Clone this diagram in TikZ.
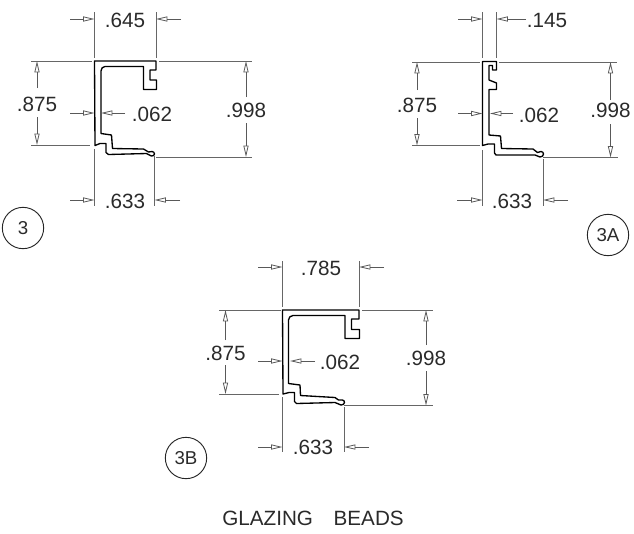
\documentclass[tikz,border=0pt]{standalone}
\usepackage{fontspec}
\setmainfont{Liberation Sans}
\usetikzlibrary{arrows.meta}
\definecolor{inkgray}{HTML}{2A2A2A}
\tikzset{
    profile/.style={draw=black, line width=1pt, line join=round, fill=white},
    extline/.style={draw=black!60, line width=0.6pt},
    dimarrow/.style={draw=black!65, line width=0.6pt, -{Triangle[open,length=8.5pt,width=3.8pt,fill=white]}},
    dimlabel/.style={text=inkgray, font=\fontsize{15.5}{16}\selectfont, inner sep=0pt},
    callout/.style={draw=black!85, line width=0.7pt, circle, minimum size=31pt, inner sep=0pt, text=inkgray, font=\fontsize{14}{15}\selectfont}
}

\begin{document}
\begin{tikzpicture}[x=0.75pt, y=-0.75pt]
\useasboundingbox (0,0) rectangle (634,533);

% bead 3
\draw[profile] (94.5,61) -- (156,61) -- (156,70) -- (150,70) -- (150,80) -- (156.5,80) -- (156.5,89.5)
    -- (143.5,89.5) -- (143.5,66.5) -- (105,66.5) to[out=180,in=90] (101,71) -- (101,133.5) -- (111.5,135)
    -- (112.5,148.5) -- (143.5,149) to[out=0,in=180] (148.5,152) to[out=0,in=180] (152,151.5)
    to[out=0,in=90] (154.5,154) to[out=-90,in=0] (151.5,156) to[out=180,in=0] (146.5,153.5)
    -- (108.5,154.5) -- (106,152.5) -- (106,143.5) -- (100,143.5) -- (95,145.5) -- cycle;
\draw[extline] (94.5,12) -- (94.5,58);
\draw[extline] (156,12) -- (156,58);
\draw[extline] (94.5,149) -- (94.5,206);
\draw[extline] (154.5,156) -- (154.5,206);
\draw[extline] (31,61) -- (92,61);
\draw[extline] (159,61) -- (252,61);
\draw[extline] (31,145) -- (90,145);
\draw[extline] (156,157) -- (252,157);
\draw[dimarrow] (70,19) -- (94.5,19);
\draw[dimarrow] (181,19) -- (156,19);
\draw[dimarrow] (37,88) -- (37,61);
\draw[dimarrow] (37,117) -- (37,145);
\draw[dimarrow] (246,97) -- (246,61);
\draw[dimarrow] (246,123) -- (246,157);
\draw[dimarrow] (70,113) -- (94.5,113);
\draw[dimarrow] (125,113) -- (101,113);
\draw[dimarrow] (70,200) -- (94.5,200);
\draw[dimarrow] (180,200) -- (154.5,200);
\node[dimlabel] (top3) at (125,20) {.645};
\node[dimlabel] (left3) at (37,104) {.875};
\node[dimlabel] (wall3) at (152,114) {.062};
\node[dimlabel] (right3) at (246,110) {.998};
\node[dimlabel] (bottom3) at (125,201) {.633};
\node[callout] (tag3) at (23,228) {3};

% bead 3A
\draw[profile] (482.5,61.5) -- (496.5,61.5) -- (496.5,70) -- (492.5,70) -- (492.5,65.5) -- (489,65.5) -- (489,80)
    -- (496.5,83) -- (496.5,89.5) -- (489,89.5) -- (489,135) -- (500.5,136) -- (501.5,148.5) -- (533,149)
    to[out=0,in=180] (537.5,152.5) to[out=0,in=180] (541,151.5) to[out=0,in=90] (543.5,154)
    to[out=-90,in=0] (540,157) to[out=180,in=0] (535,155) -- (496,155) -- (494.5,153) -- (494.5,144)
    -- (488,144) -- (482.5,145.5) -- cycle;
\draw[extline] (482.5,12) -- (482.5,58);
\draw[extline] (496.5,12) -- (496.5,58);
\draw[extline] (482.5,150) -- (482.5,206);
\draw[extline] (543,159) -- (543,206);
\draw[extline] (412,62) -- (480,62);
\draw[extline] (499,62) -- (617,62);
\draw[extline] (412,145.5) -- (480,145.5);
\draw[extline] (543,157.5) -- (618,157.5);
\draw[dimarrow] (458,19) -- (482.5,19);
\draw[dimarrow] (526,19) -- (496.5,19);
\draw[dimarrow] (417,90) -- (417,62);
\draw[dimarrow] (417,118) -- (417,145.5);
\draw[dimarrow] (610.5,100) -- (610.5,62);
\draw[dimarrow] (610.5,124) -- (610.5,157.5);
\draw[dimarrow] (458,113.5) -- (482.5,113.5);
\draw[dimarrow] (513,113.5) -- (490,113.5);
\draw[dimarrow] (457,200) -- (482.5,200);
\draw[dimarrow] (568,200) -- (543,200);
\node[dimlabel] (topA) at (547,20.5) {.145};
\node[dimlabel] (leftA) at (417,105) {.875};
\node[dimlabel] (wallA) at (539,115) {.062};
\node[dimlabel] (rightA) at (610.5,110) {.998};
\node[dimlabel] (bottomA) at (512,201) {.633};
\node[callout] (tagA) at (608,235) {3A};

% bead 3B
\draw[profile] (282.5,310) -- (359,310) -- (359,319) -- (351.5,319) -- (351.5,329.5) -- (359.5,329.5) -- (359.5,338.5)
    -- (345,338.5) -- (345,315.5) -- (293,315.5) to[out=180,in=90] (288.5,320) -- (288.5,383.5) -- (300,385)
    -- (300.5,395.5) -- (335,397.5) to[out=0,in=180] (338.5,400) to[out=0,in=180] (342.5,400)
    to[out=0,in=90] (344.5,402.5) to[out=-90,in=0] (341,405) to[out=180,in=0] (335,402.5) -- (296.5,403.5)
    -- (294.5,401.5) -- (294.5,392.5) -- (289,392.5) -- (283,394) -- cycle;
\draw[extline] (282.5,261) -- (282.5,307);
\draw[extline] (359,261) -- (359,307);
\draw[extline] (282.5,397) -- (282.5,452);
\draw[extline] (344,407) -- (344,452);
\draw[extline] (219,310) -- (281,310);
\draw[extline] (362,310) -- (433,310);
\draw[extline] (219,394) -- (279,394);
\draw[extline] (344,405.5) -- (433,405.5);
\draw[dimarrow] (258,267) -- (282.5,267);
\draw[dimarrow] (384,267) -- (359,267);
\draw[dimarrow] (225.5,340) -- (225.5,310);
\draw[dimarrow] (225.5,365) -- (225.5,394);
\draw[dimarrow] (426,345) -- (426,310);
\draw[dimarrow] (426,371) -- (426,405.5);
\draw[dimarrow] (258,361) -- (282.5,361);
\draw[dimarrow] (315,361) -- (290,361);
\draw[dimarrow] (258,447) -- (282.5,447);
\draw[dimarrow] (369,447) -- (344,447);
\node[dimlabel] (topB) at (321,268) {.785};
\node[dimlabel] (leftB) at (225.5,353) {.875};
\node[dimlabel] (wallB) at (340,362) {.062};
\node[dimlabel] (rightB) at (426,358) {.998};
\node[dimlabel] (bottomB) at (313,447) {.633};
\node[callout] (tagB) at (186,458) {3B};

\node[text=inkgray, font=\fontsize{15.5}{16}\selectfont, inner sep=0pt] (title) at (313,518) {GLAZING\hspace{1em}BEADS};

\end{tikzpicture}
\end{document}
